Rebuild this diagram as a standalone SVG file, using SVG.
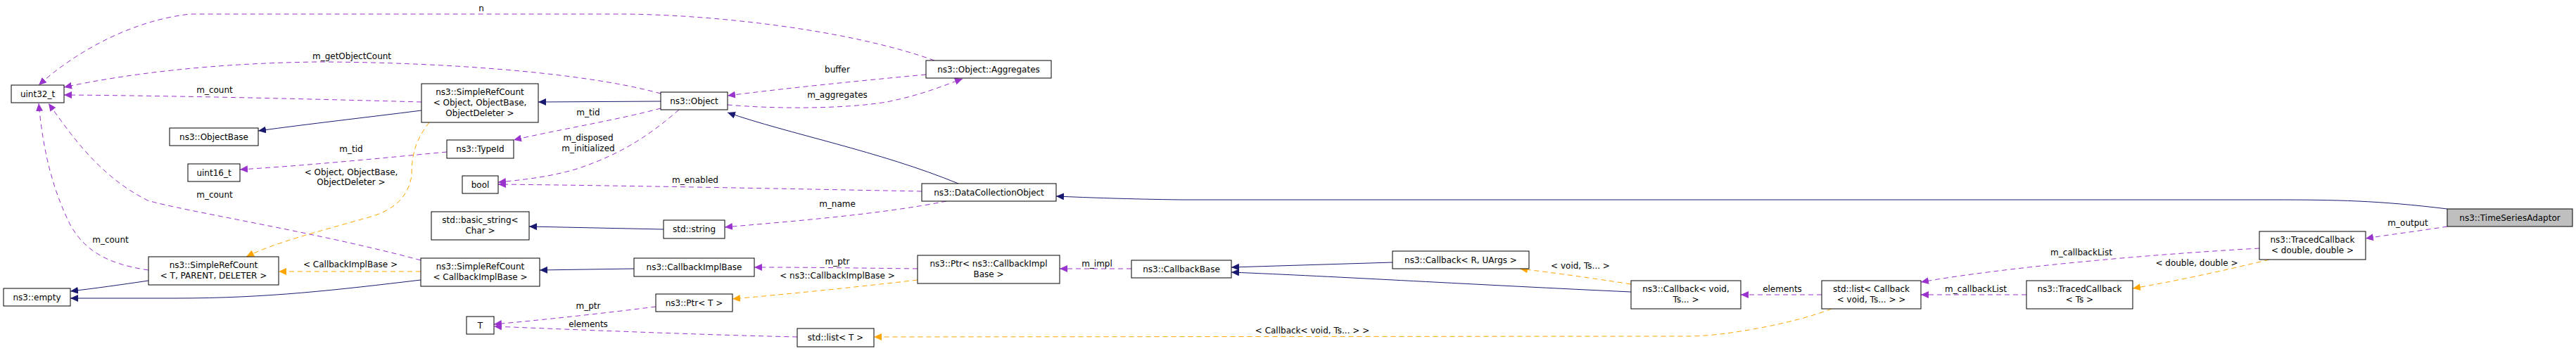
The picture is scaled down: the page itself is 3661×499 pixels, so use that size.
<svg xmlns="http://www.w3.org/2000/svg" width="3661" height="499" viewBox="0 0 3661 499">
<style>
.n rect{fill:#fff;stroke:#000;stroke-width:1}
text{font-family:"DejaVu Sans","Liberation Sans",sans-serif;font-size:12px;fill:#000;text-anchor:middle}
.p{fill:none;stroke:#9a32cd;stroke-dasharray:7,5}
.o{fill:none;stroke:#ffa500;stroke-dasharray:7,5}
.v{fill:none;stroke:#191970}
</style>
<defs>
<marker id="mp" markerWidth="12" markerHeight="10" refX="11" refY="5" orient="auto" markerUnits="userSpaceOnUse"><path d="M0,0L11,5L0,10z" fill="#9a32cd"/></marker>
<marker id="mo" markerWidth="12" markerHeight="10" refX="11" refY="5" orient="auto" markerUnits="userSpaceOnUse"><path d="M0,0L11,5L0,10z" fill="#ffa500"/></marker>
<marker id="mv" markerWidth="12" markerHeight="10" refX="11" refY="5" orient="auto" markerUnits="userSpaceOnUse"><path d="M0,0L11,5L0,10z" fill="#191970"/></marker>
</defs>
<rect width="3661" height="499" fill="#fff"/>
<g id="edges">
<path class="p" marker-end="url(#mp)" d="M1328,86 C1200,40 1000,20 880,20 L270,20 C180,30 100,80 55,121"/>
<path class="p" marker-end="url(#mp)" d="M939,133 C820,100 600,88 450,88 C300,90 180,105 91,124"/>
<path class="p" marker-end="url(#mp)" d="M599,145 C450,141 250,136 91,135"/>
<path class="p" marker-end="url(#mp)" d="M598,370 C450,330 260,300 210,285 C140,250 100,190 69,147"/>
<path class="p" marker-end="url(#mp)" d="M211,384 C150,375 120,355 100,320 C70,260 60,200 55,147"/>
<path class="p" marker-end="url(#mp)" d="M635,216 C540,225 440,235 341,241"/>
<path class="p" marker-end="url(#mp)" d="M939,154 C880,170 790,185 730,199"/>
<path class="p" marker-end="url(#mp)" d="M965,156 C920,195 880,220 820,240 C780,252 740,256 708,259"/>
<path class="p" marker-end="url(#mp)" d="M1310,272 C1100,268 900,264 708,262"/>
<path class="p" marker-end="url(#mp)" d="M1345,286 C1250,305 1120,315 1030,323"/>
<path class="p" marker-end="url(#mp)" d="M1316,106 C1220,115 1120,125 1034,136"/>
<path class="p" marker-end="url(#mp)" d="M1034,149 C1100,155 1200,155 1260,145 C1310,135 1340,122 1368,112"/>
<path class="p" marker-end="url(#mp)" d="M1304,382 C1220,381 1150,380 1072,380"/>
<path class="p" marker-end="url(#mp)" d="M932,436 C860,445 780,454 702,461"/>
<path class="p" marker-end="url(#mp)" d="M1133,479 C1000,476 850,470 702,464"/>
<path class="p" marker-end="url(#mp)" d="M1608,382 L1506,382"/>
<path class="p" marker-end="url(#mp)" d="M2589,419 L2474,419"/>
<path class="p" marker-end="url(#mp)" d="M2880,419 L2730,419"/>
<path class="p" marker-end="url(#mp)" d="M3211,353 C3050,362 2850,380 2730,401"/>
<path class="p" marker-end="url(#mp)" d="M3478,322 C3440,328 3400,333 3362,339"/>
<path class="o" marker-end="url(#mo)" d="M610,174 C590,200 585,220 585,250 C580,280 560,300 520,310 C450,330 390,345 350,365"/>
<path class="o" marker-end="url(#mo)" d="M598,386 L396,386"/>
<path class="o" marker-end="url(#mo)" d="M1304,398 C1200,410 1120,418 1041,425"/>
<path class="o" marker-end="url(#mo)" d="M2318,404 C2260,395 2210,388 2160,382"/>
<path class="o" marker-end="url(#mo)" d="M2603,439 C2550,460 2450,478 2400,478 L1242,479"/>
<path class="o" marker-end="url(#mo)" d="M3225,369 C3160,385 3090,400 3031,410"/>
<path class="v" marker-end="url(#mv)" d="M599,157 C520,167 440,176 367,186"/>
<path class="v" marker-end="url(#mv)" d="M211,399 C170,405 135,410 100,414"/>
<path class="v" marker-end="url(#mv)" d="M598,398 C480,412 380,424 250,424 L100,424"/>
<path class="v" marker-end="url(#mv)" d="M939,144 L765,145"/>
<path class="v" marker-end="url(#mv)" d="M1362,261 C1250,215 1120,190 1034,160"/>
<path class="v" marker-end="url(#mv)" d="M943,326 L752,322"/>
<path class="v" marker-end="url(#mv)" d="M901,382 L767,384"/>
<path class="v" marker-end="url(#mv)" d="M1979,373 L1750,380"/>
<path class="v" marker-end="url(#mv)" d="M2318,415 C2100,405 1900,393 1750,387"/>
<path class="v" marker-end="url(#mv)" d="M3478,297 C3380,285 3320,284 3230,284 L1680,284 C1600,283 1550,281 1501,279"/>
<text x="684" y="16">n</text>
<text x="500" y="84">m_getObjectCount</text>
<text x="305" y="132">m_count</text>
<text x="305" y="281">m_count</text>
<text x="157" y="345">m_count</text>
<text x="499" y="216">m_tid</text>
<text x="836" y="164">m_tid</text>
<text x="836" y="200">m_disposed</text>
<text x="836" y="215">m_initialized</text>
<text x="988" y="260">m_enabled</text>
<text x="1190" y="294">m_name</text>
<text x="1190" y="103">buffer</text>
<text x="1190" y="139">m_aggregates</text>
<text x="1190" y="376">m_ptr</text>
<text x="836" y="439">m_ptr</text>
<text x="836" y="465">elements</text>
<text x="1559" y="379">m_impl</text>
<text x="2533" y="415">elements</text>
<text x="2808" y="415">m_callbackList</text>
<text x="2958" y="363">m_callbackList</text>
<text x="3422" y="321">m_output</text>
<text x="499" y="249">&lt; Object, ObjectBase,</text>
<text x="499" y="263">ObjectDeleter &gt;</text>
<text x="498" y="380">&lt; CallbackImplBase &gt;</text>
<text x="1190" y="396">&lt; ns3::CallbackImplBase &gt;</text>
<text x="2246" y="382">&lt; void, Ts... &gt;</text>
<text x="1865" y="474">&lt; Callback&lt; void, Ts... &gt; &gt;</text>
<text x="3122" y="378">&lt; double, double &gt;</text>
</g>
<g id="uint32_t" class="n"><rect x="16" y="121" width="75" height="25"/><text x="53.5" y="138">uint32_t</text></g>
<g id="ObjectBase" class="n"><rect x="241" y="182" width="126" height="25"/><text x="304" y="199">ns3::ObjectBase</text></g>
<g id="uint16_t" class="n"><rect x="267" y="233" width="74" height="25"/><text x="304" y="250">uint16_t</text></g>
<g id="SRC_TPD" class="n"><rect x="211" y="365" width="185" height="40"/><text x="303.5" y="381">ns3::SimpleRefCount</text><text x="303.5" y="396">&lt; T, PARENT, DELETER &gt;</text></g>
<g id="empty" class="n"><rect x="5" y="410" width="95" height="25"/><text x="52.5" y="427">ns3::empty</text></g>
<g id="SRC_Object" class="n"><rect x="599" y="119" width="166" height="55"/><text x="682" y="135">ns3::SimpleRefCount</text><text x="682" y="150">&lt; Object, ObjectBase,</text><text x="682" y="165">ObjectDeleter &gt;</text></g>
<g id="TypeId" class="n"><rect x="635" y="199" width="95" height="26"/><text x="682.5" y="216">ns3::TypeId</text></g>
<g id="bool" class="n"><rect x="657" y="250" width="51" height="25"/><text x="682.5" y="267">bool</text></g>
<g id="basic_string" class="n"><rect x="613" y="301" width="139" height="40"/><text x="682.5" y="317">std::basic_string&lt;</text><text x="682.5" y="332">Char &gt;</text></g>
<g id="SRC_CIB" class="n"><rect x="598" y="367" width="169" height="40"/><text x="682.5" y="383">ns3::SimpleRefCount</text><text x="682.5" y="398">&lt; CallbackImplBase &gt;</text></g>
<g id="T" class="n"><rect x="663" y="450" width="39" height="25"/><text x="682.5" y="467">T</text></g>
<g id="Object" class="n"><rect x="939" y="131" width="95" height="25"/><text x="986.5" y="148">ns3::Object</text></g>
<g id="string" class="n"><rect x="943" y="313" width="87" height="26"/><text x="986.5" y="330">std::string</text></g>
<g id="CallbackImplBase" class="n"><rect x="901" y="367" width="171" height="26"/><text x="986.5" y="384">ns3::CallbackImplBase</text></g>
<g id="PtrT" class="n"><rect x="932" y="418" width="109" height="25"/><text x="986.5" y="435">ns3::Ptr&lt; T &gt;</text></g>
<g id="listT" class="n"><rect x="1133" y="467" width="109" height="26"/><text x="1187.5" y="484">std::list&lt; T &gt;</text></g>
<g id="Aggregates" class="n"><rect x="1316" y="86" width="178" height="25"/><text x="1405" y="103">ns3::Object::Aggregates</text></g>
<g id="DCO" class="n"><rect x="1310" y="261" width="191" height="25"/><text x="1405.5" y="278">ns3::DataCollectionObject</text></g>
<g id="PtrCIB" class="n"><rect x="1304" y="363" width="202" height="40"/><text x="1405" y="379">ns3::Ptr&lt; ns3::CallbackImpl</text><text x="1405" y="394">Base &gt;</text></g>
<g id="CallbackBase" class="n"><rect x="1608" y="370" width="142" height="25"/><text x="1679" y="387">ns3::CallbackBase</text></g>
<g id="CallbackRU" class="n"><rect x="1979" y="357" width="194" height="25"/><text x="2076" y="374">ns3::Callback&lt; R, UArgs &gt;</text></g>
<g id="CallbackVoid" class="n"><rect x="2318" y="399" width="156" height="40"/><text x="2396" y="415">ns3::Callback&lt; void,</text><text x="2396" y="430">Ts... &gt;</text></g>
<g id="listCallback" class="n"><rect x="2589" y="399" width="141" height="40"/><text x="2659.5" y="415">std::list&lt; Callback</text><text x="2659.5" y="430">&lt; void, Ts... &gt; &gt;</text></g>
<g id="TracedTs" class="n"><rect x="2880" y="399" width="151" height="40"/><text x="2955.5" y="415">ns3::TracedCallback</text><text x="2955.5" y="430">&lt; Ts &gt;</text></g>
<g id="TracedDD" class="n"><rect x="3211" y="329" width="151" height="40"/><text x="3286.5" y="345">ns3::TracedCallback</text><text x="3286.5" y="360">&lt; double, double &gt;</text></g>
<g id="TimeSeriesAdaptor" class="n"><rect x="3478" y="297" width="178" height="25" style="fill:#bfbfbf"/><text x="3567" y="314">ns3::TimeSeriesAdaptor</text></g>
</svg>
